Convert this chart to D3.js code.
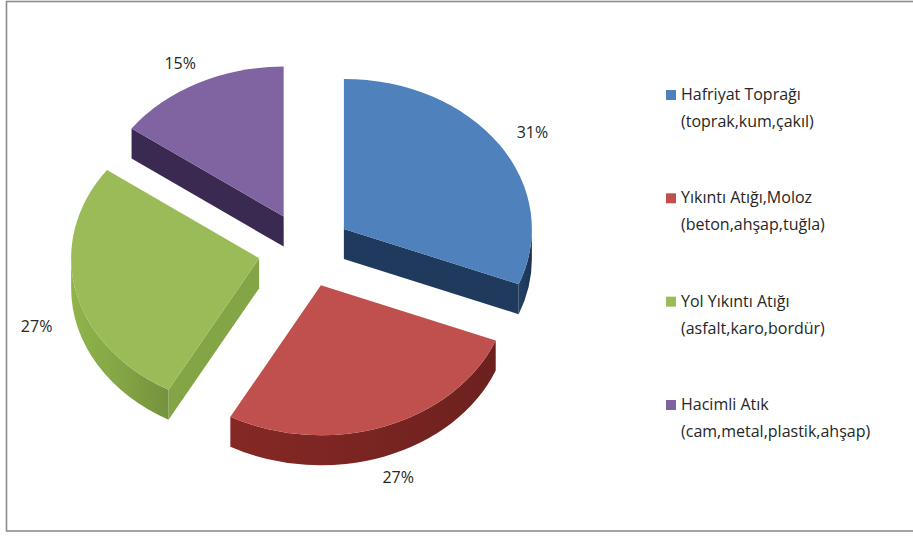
<!DOCTYPE html>
<html>
<head>
<meta charset="utf-8">
<script src="https://cdn.jsdelivr.net/npm/d3@7"></script>
<style>
  html, body { margin: 0; padding: 0; background: #fff; }
  svg { display: block; }
  text { font-family: "Open Sans", "Noto Sans", sans-serif; fill: #262626; }
</style>
</head>
<body>
<svg id="chart" width="913" height="536"></svg>
<script>
// Waste composition (percent)
const categories = ["Hafriyat Toprağı", "Yıkıntı Atığı,Moloz", "Yol Yıkıntı Atığı", "Hacimli Atık"];
const details = ["(toprak,kum,çakıl)", "(beton,ahşap,tuğla)", "(asfalt,karo,bordür)", "(cam,metal,plastik,ahşap)"];
const values = [31, 27, 27, 15];
const topColors = ["#4f81bd", "#c0504d", "#9bbb59", "#8064a2"];
const wallColors = ["#1f3a5c", "#7a2522", "#84a545", "#3a2a52"];

const svg = d3.select("#chart");
const W = 913, H = 536;

// chart frame
svg.append("rect")
  .attr("x", 6.5).attr("y", 1.5)
  .attr("width", W + 20).attr("height", 529.5)
  .attr("fill", "none").attr("stroke", "#8c8c8c").attr("stroke-width", 1.6);

// 3D pie geometry: elliptical top face, extruded downward
const cx = 305, cy = 250;
const rx = 188, ry = 150, k = ry / rx;
const depth = 30;
const explode = 47;

const pie = d3.pie().sort(null).value(d => d);
const arcs = pie(values).map((a, i) => {
  const mid = (a.startAngle + a.endAngle) / 2;
  return {
    ...a, i, mid,
    vx: cx + explode * Math.sin(mid),
    vy: cy - explode * k * Math.cos(mid)
  };
});

const pt = (s, ang, dz = 0) => [s.vx + rx * Math.sin(ang), s.vy - ry * Math.cos(ang) + dz];

function topPath(s) {
  const p0 = pt(s, s.startAngle), p1 = pt(s, s.endAngle);
  const large = (s.endAngle - s.startAngle) > Math.PI ? 1 : 0;
  return `M${s.vx},${s.vy}L${p0}A${rx},${ry} 0 ${large} 1 ${p1}Z`;
}

function outerWallPath(s) {
  const b0 = Math.max(s.startAngle, Math.PI / 2);
  const b1 = Math.min(s.endAngle, 3 * Math.PI / 2);
  if (b1 <= b0) return null;
  const p0 = pt(s, b0), p1 = pt(s, b1), q1 = pt(s, b1, depth), q0 = pt(s, b0, depth);
  return `M${p0}A${rx},${ry} 0 0 1 ${p1}L${q1}A${rx},${ry} 0 0 0 ${q0}Z`;
}

function radialWall(s, ang) {
  const p = pt(s, ang), q = pt(s, ang, depth);
  return `M${s.vx},${s.vy}L${p}L${q}L${s.vx},${s.vy + depth}Z`;
}

// shading gradients for the curved walls
const defs = svg.append("defs");
arcs.forEach(s => {
  const c = d3.color(wallColors[s.i]);
  const g = defs.append("linearGradient").attr("id", "wall" + s.i)
    .attr("x1", "0%").attr("x2", "100%").attr("y1", "0%").attr("y2", "0%");
  g.append("stop").attr("offset", "0%").attr("stop-color", c.brighter(0.25));
  g.append("stop").attr("offset", "50%").attr("stop-color", c);
  g.append("stop").attr("offset", "100%").attr("stop-color", c.darker(0.35));
});

// draw back-to-front
const order = arcs.slice().sort((a, b) => a.vy - b.vy);
const g = svg.append("g");
order.forEach(s => {
  const sg = g.append("g");
  // radial walls facing the viewer
  const nStart = s.startAngle - Math.PI / 2, nEnd = s.endAngle + Math.PI / 2;
  if (-Math.cos(nStart) > 0.01)
    sg.append("path").attr("d", radialWall(s, s.startAngle)).attr("fill", wallColors[s.i]);
  if (-Math.cos(nEnd) > 0.01)
    sg.append("path").attr("d", radialWall(s, s.endAngle)).attr("fill", wallColors[s.i]);
  const ow = outerWallPath(s);
  if (ow) sg.append("path").attr("d", ow).attr("fill", `url(#wall${s.i})`);
  sg.append("path").attr("d", topPath(s)).attr("fill", topColors[s.i]);
});

// percentage labels
const lrx = 228, lry = 172;
svg.append("g").selectAll("text").data(arcs).join("text")
  .attr("x", s => s.vx + lrx * Math.sin(s.mid))
  .attr("y", s => s.vy - lry * Math.cos(s.mid) + (Math.cos(s.mid) < 0 ? depth : 0))
  .attr("text-anchor", "middle")
  .attr("dominant-baseline", "central")
  .attr("font-size", 16)
  .text(s => s.data + "%");

// legend
const ly = d3.scalePoint().domain(d3.range(categories.length)).range([100, 410]);
const lg = svg.append("g");
categories.forEach((c, i) => {
  const y = ly(i);
  lg.append("rect").attr("x", 666).attr("y", y - 10).attr("width", 10).attr("height", 10)
    .attr("fill", topColors[i]);
  lg.append("text").attr("x", 681).attr("y", y).attr("font-size", 16).text(c);
  lg.append("text").attr("x", 681).attr("y", y + 27).attr("font-size", 16).text(details[i]);
});
</script>
</body>
</html>
